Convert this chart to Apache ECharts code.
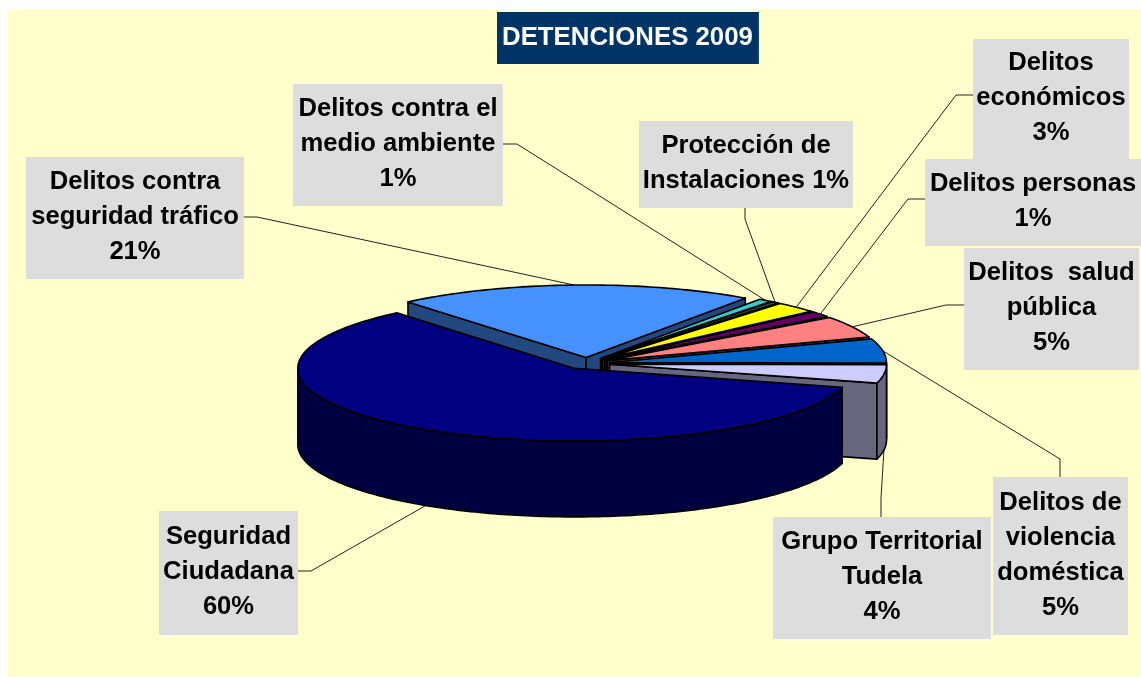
<!DOCTYPE html>
<html>
<head>
<meta charset="utf-8">
<title>Detenciones 2009</title>
<script src="https://cdn.jsdelivr.net/npm/echarts@6/dist/echarts.min.js"></script>
<style>
  html, body { margin: 0; padding: 0; background: #fff; }
  #chart { width: 1141px; height: 677px; }
</style>
</head>
<body>
<div id="chart"></div>
<script>
// slices in drawing order, back to front
var categories = [
  'Delitos contra\nseguridad tráfico',
  'Delitos contra el\nmedio ambiente',
  'Protección de\nInstalaciones',
  'Delitos\neconómicos',
  'Delitos personas',
  'Delitos  salud\npública',
  'Delitos de\nviolencia\ndoméstica',
  'Grupo Territorial\nTudela',
  'Seguridad\nCiudadana'
];
var values = [20.9, 0.8, 0.5, 2.5, 1.3, 4.9, 5.4, 4.08, 59.8];

var colors = ['#4592FF', '#33CCCC', '#1A4D4D', '#FFFF00', '#660066', '#FF8080', '#0066CC', '#CCCCFF', '#000080'];

// label layout: box [x, y, w, h], leader [start, elbow]
var boxes = [
  [26, 157, 218, 122], [293, 84, 210, 122], [639, 121, 214, 87],
  [973, 39, 156, 120], [925, 159, 216, 87], [964, 248, 175, 122],
  [993, 477, 135, 158], [773, 517, 218, 122], [159, 511, 139, 124]
];
var leaders = [
  [[244, 217], [257, 217]], [[503, 144], [517, 144]], [[745, 208], [745, 219]],
  [[973, 95], [956, 95]], [[925, 199], [908, 199]], [[964, 305], [946, 305]],
  [[1060, 477], [1060, 459]], [[881, 517], [881, 498]], [[298, 571], [311, 571]]
];
var percentOnSameLine = [false, false, true, false, false, false, false, false, false];

// pie geometry
var cx = 587, cy = 363.4, rx = 277, ry = 72.5, depth = 76, explode = 0.082;
var firstAngle = 230;

var total = values.reduce(function (a, b) { return a + b; }, 0);
var angles = [];
var acc = firstAngle;
values.forEach(function (v) {
  var sweep = v / total * 360;
  angles.push([acc, acc + sweep]);
  acc += sweep;
});

function rad(a) { return a * Math.PI / 180; }

function darken(hex) {
  var n = parseInt(hex.slice(1), 16);
  var r = (n >> 16) >> 1, g = ((n >> 8) & 255) >> 1, b = (n & 255) >> 1;
  return 'rgb(' + r + ',' + g + ',' + b + ')';
}

function tipOf(i) {
  var mid = rad((angles[i][0] + angles[i][1]) / 2);
  return [cx + rx * explode * Math.cos(mid), cy + ry * explode * Math.sin(mid)];
}

function rimPoint(i, a) {
  var tip = tipOf(i);
  return [tip[0] + rx * Math.cos(rad(a)), tip[1] + ry * Math.sin(rad(a))];
}

function arc(i, from, to, dy) {
  var pts = [];
  var n = Math.max(2, Math.ceil(Math.abs(to - from)));
  for (var k = 0; k <= n; k++) {
    var p = rimPoint(i, from + (to - from) * k / n);
    pts.push([p[0], p[1] + dy]);
  }
  return pts;
}

function poly(points, fill) {
  return {
    type: 'polygon',
    shape: { points: points },
    style: { fill: fill, stroke: '#000', lineWidth: 1.6, lineJoin: 'round' }
  };
}

function renderSlice(params, api) {
  var i = api.value(0);
  var a0 = angles[i][0], a1 = angles[i][1];
  var tip = tipOf(i);
  var top = colors[i], side = darken(colors[i]);
  var children = [];

  function radialFace(a) {
    var rim = rimPoint(i, a);
    return poly([tip, rim, [rim[0], rim[1] + depth], [tip[0], tip[1] + depth]], side);
  }
  if (Math.cos(rad(a0)) < 0) children.push(radialFace(a0));
  if (Math.cos(rad(a1)) > 0) children.push(radialFace(a1));

  // outer wall only on the near half of the ellipse
  var lo = Math.max(a0, 360), hi = Math.min(a1, 540);
  if (hi > lo) {
    children.push(poly(arc(i, lo, hi, 0).concat(arc(i, hi, lo, depth)), side));
  }

  children.push(poly([tip].concat(arc(i, a0, a1, 0)), top));
  return { type: 'group', children: children };
}

function renderLabel(params, api) {
  var i = api.value(0);
  var box = boxes[i];
  var a = (angles[i][0] + angles[i][1]) / 2;
  var end = rimPoint(i, a);
  if (Math.sin(rad(a)) > 0) end = [end[0], end[1] + depth];
  var pct = Math.round(values[i]) + '%';
  return {
    type: 'group',
    children: [
      {
        type: 'polyline',
        shape: { points: [leaders[i][0], leaders[i][1], end] },
        style: { fill: 'none', stroke: '#222', lineWidth: 1 }
      },
      {
        type: 'rect',
        shape: { x: box[0], y: box[1], width: box[2], height: box[3] },
        style: { fill: '#DDDDDD' }
      },
      {
        type: 'text',
        style: {
          x: box[0] + box[2] / 2,
          y: box[1] + box[3] / 2 - 1,
          text: categories[i] + (percentOnSameLine[i] ? ' ' : '\n') + pct,
          align: 'center',
          verticalAlign: 'middle',
          lineHeight: 35,
          fill: '#000',
          font: 'bold 25.6px "Liberation Sans", Arial, sans-serif'
        }
      }
    ]
  };
}

var rows = values.map(function (v, i) { return [i, v]; });

var chart = echarts.init(document.getElementById('chart'), null, { renderer: 'canvas' });
chart.setOption({
  animation: false,
  backgroundColor: '#fff',
  title: {
    text: 'DETENCIONES 2009',
    left: 497,
    top: 12,
    padding: [13, 6, 13, 5],
    backgroundColor: '#003366',
    textStyle: {
      color: '#fff',
      fontFamily: '"Liberation Sans", Arial, sans-serif',
      fontWeight: 'bold',
      fontSize: 25.8,
      lineHeight: 26
    }
  },
  graphic: [{
    type: 'rect',
    z: -1,
    shape: { x: 7, y: 9, width: 1134, height: 668 },
    style: { fill: '#FFFFCC' }
  }],
  series: [
    { type: 'custom', coordinateSystem: 'none', silent: true, z: 2, data: rows, renderItem: renderLabel },
    { type: 'custom', coordinateSystem: 'none', silent: true, z: 3, data: rows, renderItem: renderSlice }
  ]
});
</script>
</body>
</html>
